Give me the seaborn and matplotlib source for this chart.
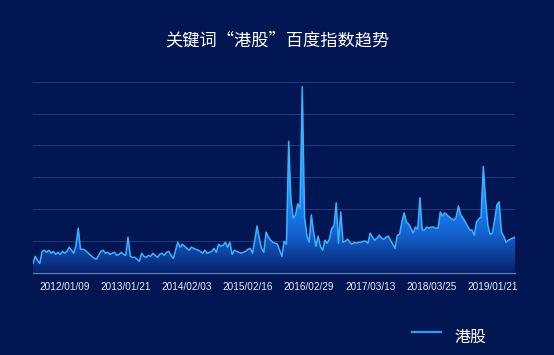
import numpy as np
import pandas as pd
import matplotlib
matplotlib.use("Agg")
import matplotlib.pyplot as plt
import seaborn as sns
from matplotlib.colors import LinearSegmentedColormap

title = "关键词“港股”百度指数趋势"
series_name = "港股"
tick_labels = ["2012/01/09", "2013/01/21", "2014/02/03", "2015/02/16",
               "2016/02/29", "2017/03/13", "2018/03/25", "2019/01/21"]
tick_index = [14, 41, 68, 95, 122, 149, 176, 203]

values = [
    570, 1020, 760, 570, 1330, 1400, 1270, 1400, 1210, 1330,
    1140, 1270, 1140, 1330, 1210, 1330, 1590, 1400, 1210, 1710,
    2790, 1460, 1460, 1400, 1270, 1140, 1020, 890, 830, 1080,
    1330, 1400, 1210, 1270, 1140, 1210, 1270, 1080, 1140, 1270,
    1140, 1080, 2220, 1020, 950, 950, 830, 700, 1210, 1020,
    950, 1080, 1020, 1210, 1080, 950, 1140, 1210, 1080, 1270,
    1330, 1080, 890, 1400, 1900, 1590, 1780, 1650, 1520, 1400,
    1590, 1520, 1460, 1400, 1330, 1210, 1400, 1210, 1270, 1330,
    1520, 1270, 1780, 1650, 1710, 1900, 1590, 1900, 1140, 1400,
    1330, 1270, 1210, 1270, 1330, 1460, 1520, 1210, 2030, 2920,
    2160, 1520, 1270, 2540, 2220, 2030, 1900, 1840, 1780, 1400,
    1020, 1970, 1780, 8250, 4570, 3430, 3620, 4320, 4060, 11680,
    3490, 2350, 1900, 3620, 2540, 1650, 2290, 1650, 1400, 2030,
    1840, 2100, 2790, 2920, 4380, 1840, 3810, 1900, 1970, 2100,
    1900, 1780, 1900, 1840, 1900, 1900, 1970, 1970, 1840, 2480,
    2220, 2030, 2160, 2350, 2160, 2100, 2220, 2290, 2030, 1780,
    1520, 2350, 2410, 3180, 3750, 3180, 3050, 2790, 2480, 2860,
    2730, 4700, 2670, 2670, 2860, 2790, 2860, 2860, 2790, 2790,
    3810, 3560, 3750, 3620, 3490, 3370, 3300, 3490, 4190, 3620,
    3430, 3180, 2920, 2670, 2670, 2350, 3180, 3370, 3490, 6670,
    4570, 2980, 2410, 2480, 3300, 4250, 4440, 2540, 2290, 1900,
    2030, 2100, 2160, 2220,
]

df = pd.DataFrame({"idx": np.arange(len(values)), "value": values, "name": series_name})

bg = "#011652"
W, H = 554, 355
fig = plt.figure(figsize=(W / 100, H / 100), dpi=100, facecolor=bg)
ax = fig.add_axes([33 / W, (H - 272.5) / H, (515 - 33) / W, (272.5 - 81.7) / H])
ax.set_facecolor(bg)

ymax = 12000
# gradient fill under the line
cmap = LinearSegmentedColormap.from_list(
    "fillgrad",
    [(0.0, "#08236e"), (0.2, "#1462d0"), (0.42, "#1e8cff"), (1.0, "#45bcff")])
poly = ax.fill_between(df["idx"], 0, df["value"], color="none", lw=0)
grad = np.linspace(0, 1, 256).reshape(-1, 1)
img = ax.imshow(grad, cmap=cmap, aspect="auto", origin="lower",
                extent=[0, len(values) - 1, 0, ymax], zorder=2)
img.set_clip_path(poly.get_paths()[0], transform=ax.transData)

sns.lineplot(data=df, x="idx", y="value", ax=ax, color="#3cb2ff", lw=1.1,
             label=series_name, zorder=3, legend=False)

ax.set_xlim(0, len(values) - 1)
ax.set_ylim(0, ymax)
ax.set_yticks(np.arange(0, ymax + 1, 2000))
ax.set_yticklabels([])
ax.tick_params(axis="y", length=0)
ax.grid(axis="y", color="#2a4488", lw=0.8, alpha=0.75, zorder=0)
ax.set_axisbelow(True)
ax.set_xticks(tick_index)
ax.set_xticklabels(tick_labels, color="#e8ecf5", fontsize=7.2, family="Liberation Sans")
ax.tick_params(axis="x", length=0, pad=7)
ax.set_xlabel("")
ax.set_ylabel("")
for s in ["top", "right", "left"]:
    ax.spines[s].set_visible(False)
ax.spines["bottom"].set_color("#5c7cc0")
ax.spines["bottom"].set_linewidth(1.0)
ax.spines["bottom"].set_zorder(4)

fig.text(277 / W, 1 - 40 / H, title, ha="center", va="center", color="white",
         fontsize=12.4, family=["Noto Sans CJK SC", "DejaVu Sans"])

# legend
fig.add_artist(plt.Line2D([412 / W, 441 / W], [1 - 332 / H, 1 - 332 / H],
                          color="#2e9cff", lw=1.6, transform=fig.transFigure))
fig.text(470 / W, 1 - 337 / H, series_name, ha="center", va="center", color="white",
         fontsize=11.5, family=["Noto Sans CJK SC", "DejaVu Sans"])

fig.savefig("out.png", dpi=100, facecolor=bg)
